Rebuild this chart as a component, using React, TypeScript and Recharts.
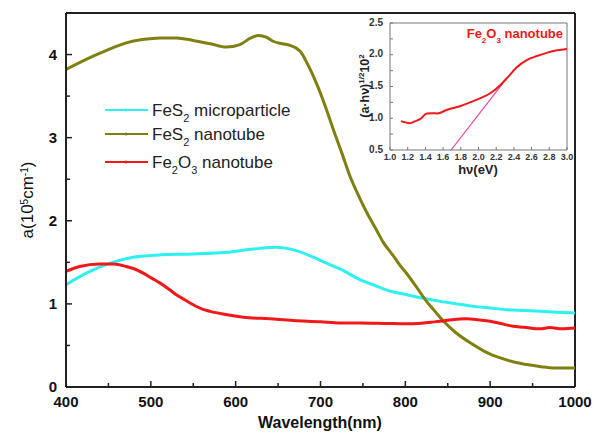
import { LineChart, Line, XAxis, YAxis, ReferenceLine } from 'recharts';

// main plot: absorption vs wavelength
const wlTicks = [400, 450, 500, 550, 600, 650, 700, 750, 800, 850, 900, 950, 1000];
const aTicks = [0, 0.5, 1, 1.5, 2, 2.5, 3, 3.5, 4];

const microWl = [400, 424, 452, 479, 511, 550, 589, 621, 648, 668, 690, 707, 723, 747, 762, 780, 802, 820, 841, 860, 880, 900, 920, 940, 959, 980, 1000];
const microA = [1.23, 1.37, 1.49, 1.56, 1.59, 1.6, 1.62, 1.66, 1.68, 1.65, 1.57, 1.49, 1.42, 1.29, 1.23, 1.16, 1.11, 1.07, 1.03, 1.0, 0.97, 0.95, 0.93, 0.92, 0.91, 0.9, 0.89];

const tubeWl = [400, 432, 450, 471, 490, 511, 530, 550, 570, 589, 605, 618, 627, 636, 644, 655, 664, 676, 686, 695, 707, 715, 725, 735, 745, 755, 766, 774, 785, 794, 802, 812, 825, 835, 845, 860, 880, 895, 912, 928, 943, 960, 975, 1000];
const tubeA = [3.82, 3.98, 4.06, 4.14, 4.18, 4.2, 4.2, 4.17, 4.13, 4.09, 4.12, 4.2, 4.23, 4.21, 4.16, 4.13, 4.11, 4.04, 3.86, 3.66, 3.34, 3.1, 2.82, 2.53, 2.3, 2.09, 1.89, 1.74, 1.59, 1.46, 1.36, 1.22, 1.03, 0.91, 0.79, 0.65, 0.51, 0.42, 0.35, 0.3, 0.27, 0.245, 0.23, 0.23];

const oxideWl = [400, 416, 440, 456, 471, 481, 491, 501, 511, 521, 530, 540, 550, 560, 570, 590, 609, 640, 668, 700, 723, 747, 775, 802, 815, 830, 841, 855, 872, 885, 900, 910, 927, 940, 959, 970, 985, 1000];
const oxideA = [1.39, 1.45, 1.48, 1.48, 1.45, 1.42, 1.37, 1.31, 1.25, 1.18, 1.11, 1.05, 0.99, 0.94, 0.91, 0.87, 0.84, 0.82, 0.8, 0.785, 0.77, 0.77, 0.765, 0.76, 0.765, 0.78, 0.79, 0.81, 0.82, 0.81, 0.79, 0.77, 0.73, 0.72, 0.7, 0.715, 0.7, 0.71];

// inset: Tauc plot
const evTicks = [1.0, 1.2, 1.4, 1.6, 1.8, 2.0, 2.2, 2.4, 2.6, 2.8, 3.0];
const taucTicks = [0.5, 0.75, 1.0, 1.25, 1.5, 1.75, 2.0, 2.25, 2.5];
const taucEv = [1.125, 1.226, 1.28, 1.34, 1.415, 1.47, 1.535, 1.64, 1.79, 1.94, 2.06, 2.15, 2.245, 2.34, 2.43, 2.55, 2.66, 2.77, 2.89, 3.0];
const taucVal = [0.955, 0.923, 0.95, 0.985, 1.075, 1.08, 1.075, 1.13, 1.19, 1.27, 1.34, 1.41, 1.52, 1.66, 1.8, 1.92, 1.98, 2.03, 2.07, 2.09];
const tangentEv = [1.69, 2.27];
const tangentVal = [0.5, 1.54];

const pairs = (xs: number[], ys: number[]) => xs.map((x, i) => ({ x, y: ys[i] }));

const microData = pairs(microWl, microA);
const tubeData = pairs(tubeWl, tubeA);
const oxideData = pairs(oxideWl, oxideA);
const taucData = pairs(taucEv, taucVal);
const tangentData = pairs(tangentEv, tangentVal);

const FONT = '"Liberation Sans", Arial, sans-serif';
const CYAN = '#2ef0f0';
const OLIVE = '#808012';
const RED = '#f01818';

const MainXTick = ({ x, y, payload }: any) => {
  const major = payload.value % 100 === 0;
  return (
    <g>
      <line x1={x} y1={y} x2={x} y2={y - (major ? 6 : 4)} stroke="#222" strokeWidth={1.5} />
      {major && (
        <text x={x} y={y + 20} textAnchor="middle" fontFamily={FONT} fontWeight="bold" fontSize={15} fill="#111">
          {payload.value}
        </text>
      )}
    </g>
  );
};

const MainYTick = ({ x, y, payload }: any) => {
  const major = payload.value % 1 === 0;
  return (
    <g>
      <line x1={x} y1={y} x2={x + (major ? 6 : 4)} y2={y} stroke="#222" strokeWidth={1.5} />
      {major && (
        <text x={x - 9} y={y + 5} textAnchor="end" fontFamily={FONT} fontWeight="bold" fontSize={15} fill="#111">
          {payload.value}
        </text>
      )}
    </g>
  );
};

const InsetXTick = ({ x, y, payload }: any) => (
  <g>
    <line x1={x} y1={y} x2={x} y2={y - 3} stroke="#777" strokeWidth={1} />
    <text x={x} y={y + 9.5} textAnchor="middle" fontFamily={FONT} fontWeight="bold" fontSize={9} fill="#333">
      {payload.value.toFixed(1)}
    </text>
  </g>
);

const InsetYTick = ({ x, y, payload }: any) => {
  const major = Math.abs((payload.value * 2) % 1) < 1e-6;
  return (
    <g>
      <line x1={x} y1={y} x2={x + 3} y2={y} stroke="#777" strokeWidth={1} />
      {major && (
        <text x={x - 7} y={y + 2.5} textAnchor="end" fontFamily={FONT} fontWeight="bold" fontSize={10} fill="#333">
          {payload.value.toFixed(1)}
        </text>
      )}
    </g>
  );
};

const legendRows = [
  { color: CYAN, y: 110, label: <>FeS<tspan baselineShift="sub" fontSize={11}>2</tspan> microparticle</> },
  { color: OLIVE, y: 134, label: <>FeS<tspan baselineShift="sub" fontSize={11}>2</tspan> nanotube</> },
  { color: RED, y: 162, label: <>Fe<tspan baselineShift="sub" fontSize={11}>2</tspan>O<tspan baselineShift="sub" fontSize={11}>3</tspan> nanotube</> },
];

export default function App() {
  return (
    <div style={{ position: 'absolute', left: 0, top: 0, width: 593, height: 440, background: '#fff' }}>
      <LineChart
        width={593}
        height={440}
        margin={{ top: 13, right: 18, left: 0, bottom: 0 }}
        style={{ position: 'absolute', left: 0, top: 0 }}
      >
        <XAxis
          dataKey="x"
          type="number"
          domain={[400, 1000]}
          ticks={wlTicks}
          interval={0}
          height={53}
          tickSize={0}
          tickMargin={0}
          tick={<MainXTick />}
          axisLine={{ stroke: '#222', strokeWidth: 2 }}
          allowDataOverflow
        />
        <YAxis
          type="number"
          domain={[0, 4.5]}
          ticks={aTicks}
          interval={0}
          width={66}
          tickSize={0}
          tickMargin={0}
          tick={<MainYTick />}
          axisLine={{ stroke: '#222', strokeWidth: 2 }}
          allowDataOverflow
        />
        <ReferenceLine y={4.5} stroke="#222" strokeWidth={2} />
        <ReferenceLine x={1000} stroke="#222" strokeWidth={2} />
        <Line data={microData} dataKey="y" name="FeS2 microparticle" type="monotone" stroke={CYAN} strokeWidth={3} dot={false} isAnimationActive={false} />
        <Line data={tubeData} dataKey="y" name="FeS2 nanotube" type="monotone" stroke={OLIVE} strokeWidth={3} dot={false} isAnimationActive={false} />
        <Line data={oxideData} dataKey="y" name="Fe2O3 nanotube" type="monotone" stroke={RED} strokeWidth={3} dot={false} isAnimationActive={false} />
      </LineChart>

      <LineChart
        width={240}
        height={175}
        margin={{ top: 13, right: 13, left: 0, bottom: 0 }}
        style={{ position: 'absolute', left: 340, top: 10 }}
      >
        <XAxis
          dataKey="x"
          type="number"
          domain={[1.0, 3.0]}
          ticks={evTicks}
          interval={0}
          height={35}
          tickSize={0}
          tickMargin={0}
          tick={<InsetXTick />}
          axisLine={{ stroke: '#777', strokeWidth: 1 }}
          allowDataOverflow
        />
        <YAxis
          type="number"
          domain={[0.5, 2.5]}
          ticks={taucTicks}
          interval={0}
          width={50}
          tickSize={0}
          tickMargin={0}
          tick={<InsetYTick />}
          axisLine={{ stroke: '#777', strokeWidth: 1 }}
          allowDataOverflow
        />
        <ReferenceLine y={2.5} stroke="#777" strokeWidth={1} />
        <ReferenceLine x={3.0} stroke="#777" strokeWidth={1} />
        <Line data={tangentData} dataKey="y" type="linear" stroke="#e8489a" strokeWidth={1.2} dot={false} isAnimationActive={false} />
        <Line data={taucData} dataKey="y" type="monotone" stroke={RED} strokeWidth={2} dot={false} isAnimationActive={false} />
      </LineChart>

      <svg width={593} height={440} style={{ position: 'absolute', left: 0, top: 0, pointerEvents: 'none' }}>
        {legendRows.map((r) => (
          <g key={r.y}>
            <line x1={105} y1={r.y} x2={148} y2={r.y} stroke={r.color} strokeWidth={2} />
            <circle cx={126} cy={r.y} r={1.5} fill={r.color} />
            <text x={152} y={r.y + 6} fontFamily={FONT} fontSize={17} fill="#222">
              {r.label}
            </text>
          </g>
        ))}
        <text x={320} y={428} textAnchor="middle" fontFamily={FONT} fontWeight="bold" fontSize={16} fill="#111">
          Wavelength(nm)
        </text>
        <text
          transform="translate(33,200) rotate(-90)"
          textAnchor="middle"
          fontFamily={FONT}
          fontSize={17}
          fill="#111"
        >
          a(10<tspan baselineShift="super" fontSize={10}>5</tspan>cm<tspan baselineShift="super" fontSize={10}>-1</tspan>)
        </text>
        <text
          transform="translate(369,86) rotate(-90)"
          textAnchor="middle"
          fontFamily={FONT}
          fontWeight="bold"
          fontSize={12.5}
          fill="#222"
        >
          (a·hν)<tspan dy={-5} fontSize={8}>1/2</tspan><tspan dy={5}>10</tspan><tspan dy={-5} fontSize={8}>2</tspan>
        </text>
        <text x={478} y={174} textAnchor="middle" fontFamily={FONT} fontWeight="bold" fontSize={13} fill="#222">
          hν(eV)
        </text>
        <text x={563} y={38} textAnchor="end" fontFamily={FONT} fontWeight="bold" fontSize={13} fill={RED}>
          Fe<tspan baselineShift="sub" fontSize={8}>2</tspan>O<tspan baselineShift="sub" fontSize={8}>3</tspan> nanotube
        </text>
      </svg>
    </div>
  );
}
